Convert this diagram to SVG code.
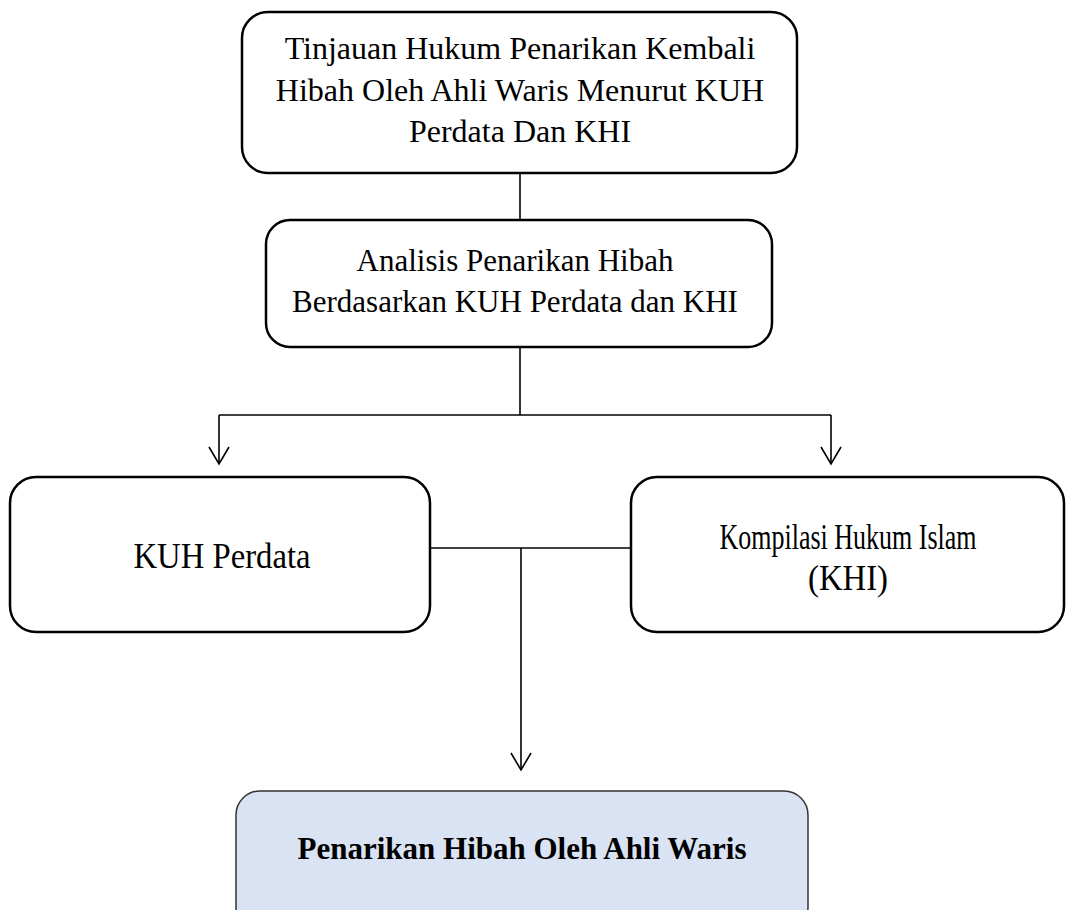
<svg xmlns="http://www.w3.org/2000/svg" width="1066" height="910" viewBox="0 0 1066 910">
<defs>
<style>
.box{fill:#ffffff;stroke:#000000;stroke-width:2.5}
.hl{fill:#dae3f3;stroke:#333333;stroke-width:1.5}
.t{font-family:"Liberation Serif","Times New Roman",serif;font-size:31px;fill:#000000;text-anchor:middle}
.t1{font-size:32px}
.tc{font-size:35px}
.b{font-weight:bold}
.c{fill:none;stroke:#000000;stroke-width:1.6}
</style>
<marker id="arr" markerUnits="userSpaceOnUse" markerWidth="24" markerHeight="24" viewBox="-12 -20 24 24" refX="0" refY="0" orient="auto-start-reverse" overflow="visible">
<path d="M-10,-17 L0,0 L10,-17" fill="none" stroke="#000000" stroke-width="1.6" transform="rotate(-90)"/>
</marker>
</defs>
<rect width="1066" height="910" fill="#ffffff"/>
<g id="connectors">
<line class="c" x1="520" y1="173" x2="520" y2="220"/>
<line class="c" x1="520" y1="347" x2="520" y2="415"/>
<line class="c" x1="219" y1="415" x2="831" y2="415"/>
<line class="c" x1="219" y1="415" x2="219" y2="464" marker-end="url(#arr)"/>
<line class="c" x1="831" y1="415" x2="831" y2="464" marker-end="url(#arr)"/>
<line class="c" x1="430" y1="548" x2="631" y2="548"/>
<line class="c" x1="521" y1="548" x2="521" y2="770" marker-end="url(#arr)"/>
</g>
<g id="n1">
<rect class="box" x="242" y="12" width="555" height="161" rx="26"/>
<text class="t t1" x="520" y="59">Tinjauan Hukum Penarikan Kembali</text>
<text class="t t1" x="520" y="101">Hibah Oleh Ahli Waris Menurut KUH</text>
<text class="t t1" x="520" y="142">Perdata Dan KHI</text>
</g>
<g id="n2">
<rect class="box" x="266" y="220" width="506" height="127" rx="24"/>
<text class="t" x="515" y="271">Analisis Penarikan Hibah</text>
<text class="t" x="515" y="312">Berdasarkan KUH Perdata dan KHI</text>
</g>
<g id="n3">
<rect class="box" x="10" y="477" width="420" height="155" rx="26"/>
<text class="t tc" x="222" y="568" textLength="177" lengthAdjust="spacingAndGlyphs">KUH Perdata</text>
</g>
<g id="n4">
<rect class="box" x="631" y="477" width="433" height="155" rx="26"/>
<text class="t tc" x="848" y="549" textLength="257" lengthAdjust="spacingAndGlyphs">Kompilasi Hukum Islam</text>
<text class="t tc" x="848" y="590" textLength="80" lengthAdjust="spacingAndGlyphs">(KHI)</text>
</g>
<g id="n5">
<rect class="hl" x="236" y="791" width="572" height="140" rx="24"/>
<text class="t b" x="522" y="859">Penarikan Hibah Oleh Ahli Waris</text>
</g>
</svg>
